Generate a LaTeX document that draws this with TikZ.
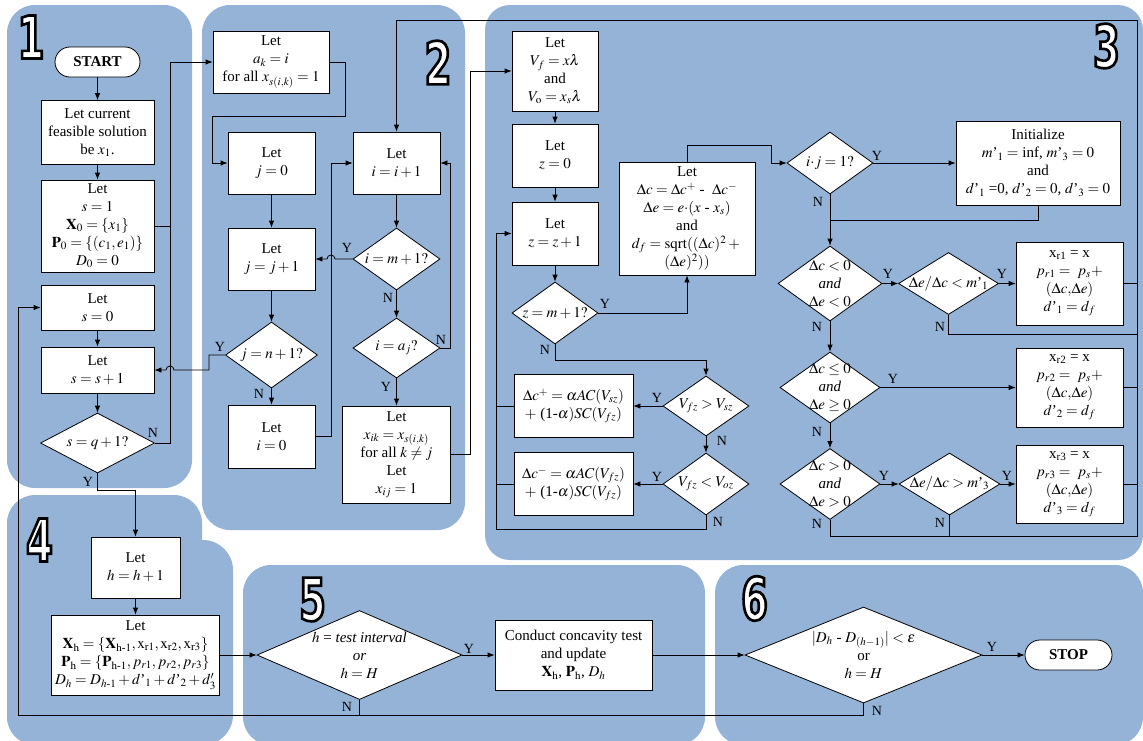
\documentclass[tikz,border=0pt]{standalone}
\usepackage{amsmath}
\usepackage{mathptmx}
\usepackage[no-math]{fontspec}
\setmainfont{Liberation Serif}
\newfontfamily\numfont{DejaVu Sans}[FakeStretch=0.65,FakeBold=4.5]
\usetikzlibrary{shapes.geometric,arrows.meta}
\definecolor{panelblue}{RGB}{149,179,215}
\newcommand\txtf{\fontsize{15}{18}\selectfont}
\newcommand\lblf{\fontsize{14}{16}\selectfont}
\newcommand\bignum[3]{%
  \node[numtxt] (#1) at (#2) {\special{pdf:bcolor [1] [0]}#3\special{pdf:ecolor}};}
\begin{document}
\begin{tikzpicture}[x=1pt,y=-1pt,
  sz/.style 2 args={minimum width=#1pt,minimum height=#2pt},
  box/.style={draw,fill=white,line width=0.8pt,inner sep=0pt,align=center,font=\txtf},
  dia/.style={draw,fill=white,line width=0.8pt,diamond,inner sep=0pt},
  dtxt/.style={align=center,font=\txtf,inner sep=0pt},
  term/.style={draw,fill=white,line width=0.8pt,rounded corners=15pt,inner sep=0pt,font=\txtf\bfseries},
  lbl/.style={font=\lblf,inner sep=0pt},
  con/.style={line width=0.8pt},
  arr/.style={con,-{Latex[length=7pt,width=5.5pt]}},
  panel/.style={fill=panelblue},
  numtxt/.style={inner sep=0pt,font={\numfont\bfseries\fontsize{59}{60}\selectfont}}]
\useasboundingbox (0,0) rectangle (1143,740);
\clip (0,0) rectangle (1143,740);
% panels
\fill[panel,rounded corners=28pt] (7,5) rectangle (192,488);
\fill[panel,rounded corners=28pt] (202,5) rectangle (465,530);
\fill[panel,rounded corners=25pt] (485,5) rectangle (1143,560);
\fill[panel,rounded corners=28pt] (7,495) rectangle (202,745);
\fill[panel,rounded corners=30pt] (7,540) rectangle (233,745);
\fill[panel,rounded corners=28pt] (243,565) rectangle (705,745);
\fill[panel,rounded corners=28pt] (715,565) rectangle (1143,745);
% panel numbers
\bignum{n1}{31,37}{1}
\bignum{n2}{438,62.5}{2}
\bignum{n3}{1106.5,46}{3}
\bignum{n4}{39.5,540}{4}
\bignum{n5}{312.5,599.5}{5}
\bignum{n6}{754.5,598.5}{6}
% ---------- panel 1
\node[term,sz={85}{30}] (start) at (97.5,62) {START};
\node[box,sz={113}{64}] (b1) at (97.5,132.5) {Let current\\feasible solution\\be $x_1$.};
\node[box,sz={113}{92}] (b2) at (97.5,226) {Let\\$s = 1$\\$\mathbf{X}_0 = \{x_1\}$\\$\mathbf{P}_0 = \{(c_1, e_1)\}$\\$D_0 = 0$};
\node[box,sz={113}{45}] (b3) at (97.5,307.5) {Let\\$s = 0$};
\node[box,sz={113}{46}] (b4) at (97.5,370) {Let\\$s = s + 1$};
\node[dia,sz={114}{60}] (d1) at (97.5,443) {};
\node[dtxt] (d1t) at (d1) {$s = q + 1?$};
% ---------- panel 2
\node[box,sz={116}{62}] (ak) at (271,62) {Let\\$a_k = i$\\for all $x_{s(i,k)} = 1$};
\node[box,sz={87}{62}] (j0) at (271.5,163) {Let\\$j = 0$};
\node[box,sz={87}{62}] (ii) at (396.5,163) {Let\\$i = i + 1$};
\node[box,sz={87}{62}] (jj) at (271.5,259) {Let\\$j = j + 1$};
\node[dia,sz={87}{62}] (dim) at (396.5,259) {};
\node[dtxt] (dimt) at (dim) {$i = m + 1?$};
\node[dia,sz={92}{66}] (djn) at (271.5,355) {};
\node[dtxt] (djnt) at (djn) {$j = n + 1?$};
\node[box,sz={87}{63}] (i0) at (271.5,436.5) {Let\\$i = 0$};
\node[dia,sz={87}{60}] (dia) at (396.5,348) {};
\node[dtxt] (diat) at (dia) {$i = a_j?$};
\node[box,sz={108}{97}] (xik) at (396.5,454.5) {Let\\$x_{ik} = x_{s(i,k)}$\\for all $k \neq j$\\Let\\$x_{ij} = 1$};
% ---------- panel 3
\node[box,sz={86}{80}] (vf) at (555,71) {Let\\$V_f = x\lambda$\\and\\$V_\mathrm{o} = x_s\lambda$};
\node[box,sz={86}{63}] (z0) at (555,155.5) {Let\\$z = 0$};
\node[box,sz={86}{63}] (zz) at (555,233.5) {Let\\$z = z + 1$};
\node[dia,sz={86}{62}] (dzm) at (555,313) {};
\node[dtxt] (dzmt) at (dzm) {$z = m + 1?$};
\node[box,sz={136}{113}] (ldc) at (687,218.5) {Let\\$\Delta c = \Delta c^+$ -\ \ $\Delta c^-$\\$\Delta e = e{\cdot}(x$ - $x_s)$\\and\\$d_f = \mathrm{sqrt}((\Delta c)^2 +{}$\\$(\Delta e)^2))$};
\node[dia,sz={86}{60}] (dvs) at (706,406) {};
\node[dtxt] (dvst) at (dvs) {$V_{fz} > V_{sz}$};
\node[box,sz={119}{63}] (cp) at (573.5,406) {$\Delta c^+ = \alpha AC(V_{sz})$\\$+$ (1-$\alpha)SC(V_{fz})$};
\node[dia,sz={86}{62}] (dvo) at (706,484) {};
\node[dtxt] (dvot) at (dvo) {$V_{fz} < V_{oz}$};
\node[box,sz={119}{63}] (cm) at (573.5,484) {$\Delta c^- = \alpha AC(V_{fz})$\\$+$ (1-$\alpha)SC(V_{fz})$};
\node[dia,sz={86}{62}] (dij) at (830,163) {};
\node[dtxt] (dijt) at (dij) {$i{\cdot}j = 1?$};
\node[box,sz={164}{84}] (init) at (1038,163) {Initialize\\$m$'$_1 =$ inf, $m$'$_3 = 0$\\and\\$d$'$_1$ =0, $d$'$_2 = 0$, $d$'$_3 = 0$};
\node[dia,sz={104}{75}] (dc1) at (830,283.5) {};
\node[dtxt] (dc1t) at (dc1) {$\Delta c < 0$\\\textit{and}\\$\Delta e < 0$};
\node[dia,sz={100}{62}] (dm1) at (948.5,283.5) {};
\node[dtxt] (dm1t) at (dm1) {$\Delta e/\Delta c < m$'$_1$};
\node[box,sz={107}{83}] (xr1) at (1069.5,283.5) {x\textsubscript{r1} = x\\$p_{r1} = \ p_s +$\\$(\Delta c{,}\Delta e)$\\$d$'$_1 = d_f$};
\node[dia,sz={100}{71}] (dc2) at (830,387.5) {};
\node[dtxt] (dc2t) at (dc2) {$\Delta c \le 0$\\\textit{and}\\$\Delta e \ge 0$};
\node[box,sz={107}{79}] (xr2) at (1069.5,387.5) {x\textsubscript{r2} = x\\$p_{r2} = \ p_s +$\\$(\Delta c{,}\Delta e)$\\$d$'$_2 = d_f$};
\node[dia,sz={100}{71}] (dc3) at (830,484) {};
\node[dtxt] (dc3t) at (dc3) {$\Delta c > 0$\\\textit{and}\\$\Delta e > 0$};
\node[dia,sz={101}{62}] (dm3) at (949.5,484) {};
\node[dtxt] (dm3t) at (dm3) {$\Delta e/\Delta c > m$'$_3$};
\node[box,sz={107}{78}] (xr3) at (1069.5,484) {x\textsubscript{r3} = x\\$p_{r3} = \ p_s +$\\$(\Delta c{,}\Delta e)$\\$d$'$_3 = d_f$};
% ---------- panel 4-6
\node[box,sz={89}{61}] (hh) at (135.5,567.5) {Let\\$h = h + 1$};
\node[box,sz={168}{80}] (xh) at (135.5,655) {Let\\$\mathbf{X}_\mathrm{h} = \{\mathbf{X}_{\mathrm{h}\text{-}1}, \mathrm{x}_\mathrm{r1}, \mathrm{x}_\mathrm{r2}, \mathrm{x}_\mathrm{r3}\}$\\$\mathbf{P}_\mathrm{h} = \{\mathbf{P}_{\mathrm{h}\text{-}1}, p_{r1}, p_{r2}, p_{r3}\}$\\$D_h = D_{h\text{-}1} + d$'$_1 + d$'$_2 + d_3'$};
\node[dia,sz={205}{89}] (d5) at (359.5,655) {};
\node[dtxt] (d5t) at (d5) {$h$ = \textit{test interval}\\\textit{or}\\$h = H$};
\node[box,sz={157}{70}] (cc) at (573.5,655) {Conduct concavity test\\and update\\$\mathbf{X}_\mathrm{h}$, $\mathbf{P}_\mathrm{h}$, $D_h$};
\node[dia,sz={237}{96}] (d6) at (863.5,655) {};
\node[dtxt] (d6t) at (d6) {$|D_h$ - $D_{(h-1)}| < \varepsilon$\\or\\$h = H$};
\node[term,sz={87}{30}] (stop) at (1068.5,655) {STOP};
% ---------- connectors panel 1
\draw[arr] (start) -- (b1);
\draw[arr] (b1) -- (b2);
\draw[con] (b2.east) -- (170,226);
\draw[arr] (b3) -- (b4);
\draw[arr] (b4) -- (d1);
\draw[arr] (d1.east) -- (170,443) -- (170,62) -- (ak.west);
\draw[arr] (d1.south) -- (97.5,490) -- (135.5,490) -- (hh.north);
% panel 2
\draw[arr] (ak.east) -- (345,62) -- (345,116) -- (212,116) -- (212,163) -- (j0.west);
\draw[arr] (j0) -- (jj);
\draw[arr] (jj) -- (djn);
\draw[arr] (djn) -- (i0);
\draw[arr] (djn.west) -- (209,355) -- (209,370) -- (174,370) arc[start angle=0,end angle=-180,radius=4] -- (b4.east);
\draw[arr] (i0.east) -- (331,436.5) -- (331,163) -- (ii.west);
\draw[arr] (ii) -- (dim);
\draw[arr] (dim.west) -- (335,259) arc[start angle=0,end angle=-180,radius=4] -- (jj.east);
\draw[arr] (dim) -- (dia);
\draw[arr] (dia.east) -- (450,348) -- (450,163) -- (ii.east);
\draw[arr] (dia) -- (xik);
\draw[arr] (xik.east) -- (470,454.5) -- (470,71) -- (vf.west);
% panel 3
\draw[arr] (vf) -- (z0);
\draw[arr] (z0) -- (zz);
\draw[arr] (zz) -- (dzm);
\draw[arr] (dzm.east) -- (687,313) -- (ldc.south);
\draw[arr] (dzm.south) -- (555,360) -- (706,360) -- (dvs.north);
\draw[arr] (dvs.west) -- (cp.east);
\draw[arr] (dvs) -- (dvo);
\draw[arr] (dvo.west) -- (cm.east);
\draw[arr] (dvo.south) -- (706,529) -- (496,529) -- (496,233.5) -- (zz.west);
\draw[con] (cp.west) -- (496,406);
\draw[con] (cm.west) -- (496,484);
\draw[arr] (ldc.north) -- (687,145) -- (771,145) -- (771,163) -- (dij.west);
\draw[arr] (dij) -- (init);
\draw[con] (init.south) -- (1038,220) -- (830,220);
\draw[arr] (dij) -- (dc1);
\draw[arr] (dc1) -- (dm1);
\draw[arr] (dm1) -- (xr1);
\draw[con] (xr1.east) -- (1137,283.5);
\draw[con] (dm1.south) -- (948.5,334) -- (1137,334);
\draw[arr] (dc1) -- (dc2);
\draw[arr] (dc2) -- (xr2);
\draw[con] (xr2.east) -- (1137,387.5);
\draw[arr] (dc2) -- (dc3);
\draw[arr] (dc3) -- (dm3);
\draw[arr] (dm3) -- (xr3);
\draw[con] (xr3.east) -- (1137,484);
\draw[con] (dm3.south) -- (949.5,536);
\draw[arr] (dc3.south) -- (830,536) -- (1137,536) -- (1137,20) -- (396.5,20) -- (ii.north);
% panels 4-6
\draw[arr] (hh) -- (xh);
\draw[arr] (xh.east) -- (d5.west);
\draw[arr] (d5) -- (cc);
\draw[arr] (cc) -- (d6);
\draw[arr] (d6) -- (stop);
\draw[arr] (d6.south) -- (863.5,715) -- (18,715) -- (18,307.5) -- (b3.west);
\draw[con] (d5.south) -- (359.5,715);
% labels
\node[lbl] (l1) at (153,433) {N};
\node[lbl] (l2) at (88,482) {Y};
\node[lbl] (l3) at (220,347) {Y};
\node[lbl] (l4) at (259,394) {N};
\node[lbl] (l5) at (347,248) {Y};
\node[lbl] (l6) at (388,298) {N};
\node[lbl] (l7) at (441,340) {N};
\node[lbl] (l8) at (386,387) {Y};
\node[lbl] (l9) at (605,304) {Y};
\node[lbl] (l10) at (545,350) {N};
\node[lbl] (l11) at (657,398) {Y};
\node[lbl] (l12) at (722,441) {N};
\node[lbl] (l13) at (657,477) {Y};
\node[lbl] (l14) at (718,522) {N};
\node[lbl] (l15) at (877,156) {Y};
\node[lbl] (l16) at (818,202) {N};
\node[lbl] (l17) at (888,274) {Y};
\node[lbl] (l18) at (1002,274) {Y};
\node[lbl] (l19) at (817,327) {N};
\node[lbl] (l20) at (940,327) {N};
\node[lbl] (l21) at (893,379) {Y};
\node[lbl] (l22) at (817,432) {N};
\node[lbl] (l23) at (884,476) {Y};
\node[lbl] (l24) at (1007,476) {Y};
\node[lbl] (l25) at (817,524) {N};
\node[lbl] (l26) at (940,523) {N};
\node[lbl] (l27) at (469,649) {Y};
\node[lbl] (l28) at (347,707) {N};
\node[lbl] (l29) at (992,647) {Y};
\node[lbl] (l30) at (877,711) {N};
\end{tikzpicture}
\end{document}
